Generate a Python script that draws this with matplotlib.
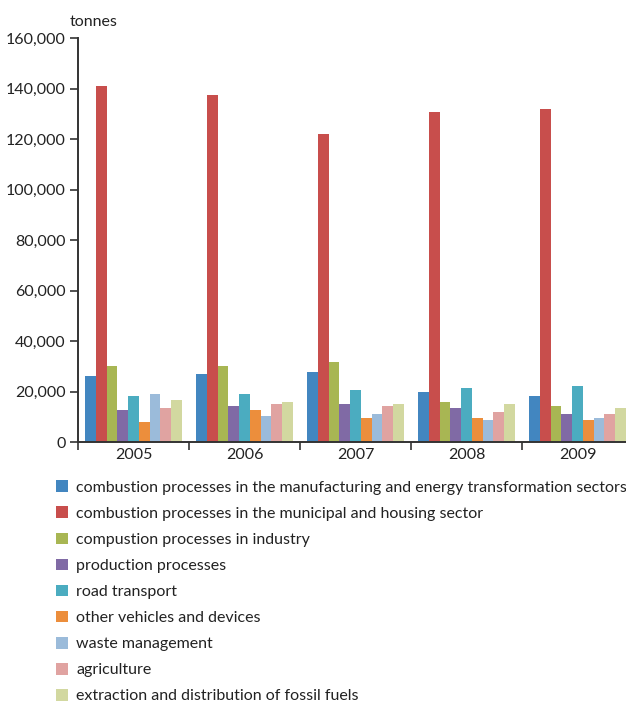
import matplotlib.pyplot as plt
import numpy as np
from matplotlib.patches import Patch

plt.rcParams['font.family'] = ['Lato', 'DejaVu Sans']

years = ['2005', '2006', '2007', '2008', '2009']

sectors = [
    'combustion processes in the manufacturing and energy transformation sectors',
    'combustion processes in the municipal and housing sector',
    'compustion processes in industry',
    'production processes',
    'road transport',
    'other vehicles and devices',
    'waste management',
    'agriculture',
    'extraction and distribution of fossil fuels',
]

# tonnes per sector, one value per year
manufacturing_energy = [26100, 26900, 27700, 19800, 18200]
municipal_housing = [141000, 137500, 121800, 130500, 132000]
industry = [30100, 30100, 31700, 15800, 14300]
production = [12700, 14300, 15000, 13500, 11100]
road_transport = [18200, 19000, 20600, 21400, 22200]
other_vehicles = [7900, 12700, 9500, 9500, 8700]
waste = [19000, 10300, 11100, 8700, 9500]
agriculture = [13500, 15000, 14300, 11900, 11100]
fossil_fuels = [16600, 15800, 15000, 15000, 13500]

series = [manufacturing_energy, municipal_housing, industry, production,
          road_transport, other_vehicles, waste, agriculture, fossil_fuels]

colors = ['#4286c0', '#c84e4c', '#a8b653', '#806aa5', '#4bacc0',
          '#ec8e3c', '#9bbbda', '#e0a3a1', '#d2d8a0']

fig = plt.figure(figsize=(6.26, 7.07), dpi=100)
ax = fig.add_axes([78 / 626, 1 - 442 / 707, 555 / 626, 404 / 707])

x = np.arange(len(years))
width = 0.865 / len(series)
for i, (vals, c) in enumerate(zip(series, colors)):
    offset = (i - (len(series) - 1) / 2) * width
    ax.bar(x + offset, vals, width=width, color=c, linewidth=0)

ax.set_xlim(-0.5, len(years) - 0.5)
ax.set_ylim(0, 160000)
ax.set_yticks(np.arange(0, 160001, 20000))
ax.set_yticklabels([f'{v:,}' for v in range(0, 160001, 20000)])
ax.set_xticks(x)
ax.set_xticklabels(years)
ax.set_xticks(np.arange(-0.5, len(years)), minor=True)

axis_color = '#333333'
for side in ['top', 'right']:
    ax.spines[side].set_visible(False)
for side in ['left', 'bottom']:
    ax.spines[side].set_color(axis_color)
    ax.spines[side].set_linewidth(1.4)

ax.tick_params(axis='y', direction='out', length=6, width=1.2,
               color=axis_color, labelsize=11.5, labelcolor='#222222', pad=3)
ax.tick_params(axis='x', which='major', length=0, labelsize=11.5,
               labelcolor='#222222', pad=4)
ax.tick_params(axis='x', which='minor', direction='out', length=6,
               width=1.2, color=axis_color)

fig.text(70 / 626, 1 - 22 / 707, 'tonnes', fontsize=11.5, color='#222222',
         va='center', ha='left')

handles = [Patch(facecolor=c, edgecolor='none') for c in colors]
fig.legend(handles, sectors, loc='upper left',
           bbox_to_anchor=(50 / 626, 1 - 474 / 707), frameon=False,
           fontsize=11.5, handlelength=0.75, handleheight=0.75,
           handletextpad=0.5, labelspacing=0.73, borderaxespad=0,
           labelcolor='#222222')

fig.savefig('out.png', dpi=100)
